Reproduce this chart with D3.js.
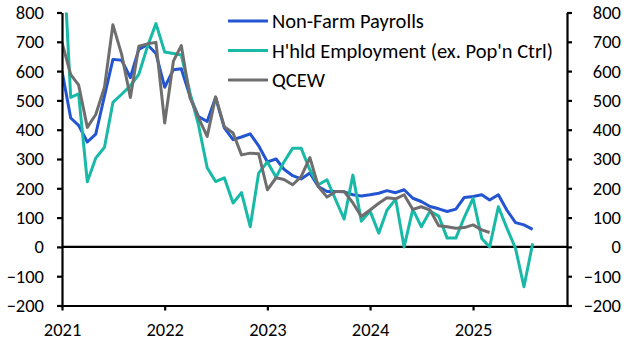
<!DOCTYPE html>
<html><head><meta charset="utf-8">
<script src="https://cdn.jsdelivr.net/npm/d3@7/dist/d3.min.js"></script>
<style>
body{margin:0;background:#fff;}
svg text{font-family:Carlito,Calibri,Lato,sans-serif;fill:#000;}
</style>
</head><body>
<svg id="chart" width="629" height="349"></svg>
<script>
// ---- data ----
const months = [
"2021-01","2021-02","2021-03","2021-04","2021-05","2021-06","2021-07","2021-08","2021-09","2021-10","2021-11","2021-12",
"2022-01","2022-02","2022-03","2022-04","2022-05","2022-06","2022-07","2022-08","2022-09","2022-10","2022-11","2022-12",
"2023-01","2023-02","2023-03","2023-04","2023-05","2023-06","2023-07","2023-08","2023-09","2023-10","2023-11","2023-12",
"2024-01","2024-02","2024-03","2024-04","2024-05","2024-06","2024-07","2024-08","2024-09","2024-10","2024-11","2024-12",
"2025-01","2025-02","2025-03","2025-04","2025-05","2025-06","2025-07","2025-08"];

const nonFarmPayrolls = [
600,440,415,358,385,515,640,637,578,674,690,660,
545,605,608,514,445,428,510,406,366,375,386,345,
290,300,265,243,232,252,206,189,189,188,178,174,
178,183,192,185,195,166,155,138,130,121,129,169,
172,178,160,178,126,83,75,60];

const householdEmployment = [
1090,510,522,222,303,340,493,521,550,589,685,762,
665,660,655,526,417,270,223,236,150,185,69,252,
290,238,290,337,337,263,212,229,160,95,245,88,
122,47,125,163,0,128,69,122,105,30,30,101,
166,29,0,137,65,-5,-136,12];

const qcew = [
698,588,553,408,452,545,758,657,510,685,693,698,
423,634,687,509,441,377,512,410,389,314,320,318,
195,236,230,212,240,305,206,170,189,189,150,104,
126,149,168,164,178,128,137,126,72,69,64,66,
75,58,49];

const seriesNames = ["Non-Farm Payrolls","H'hld Employment (ex. Pop'n Ctrl)","QCEW"];
const seriesColors = ["#2354D1","#18B9A6","#6E6E6E"];
const yTicks = [-200,-100,0,100,200,300,400,500,600,700,800];
const xTickLabels = ["2021","2022","2023","2024","2025"];
const xDomain = ["2021-01","2025-12"];

// ---- layout ----
const svg = d3.select("#chart");
const L = 62, R = 567, T = 12.5, B = 305.5;
const parse = d3.timeParse("%Y-%m");
const x = d3.scaleTime().domain(xDomain.map(parse)).range([L, R]);
const y = d3.scaleLinear().domain([-200, 800]).range([B, T]);
const fs = "18.5px";
const legFs = "20.5px";

svg.append("defs").append("clipPath").attr("id","plotclip")
  .append("rect").attr("x", L).attr("y", T).attr("width", R - L).attr("height", B - T);

// zero line
svg.append("line").attr("x1", L).attr("x2", R).attr("y1", y(0)).attr("y2", y(0))
  .attr("stroke", "#000").attr("stroke-width", 2.2);

// series lines
const allSeries = [nonFarmPayrolls, householdEmployment, qcew];
const line = d3.line().x((d, i) => x(parse(months[i]))).y(d => y(d));
const g = svg.append("g").attr("clip-path", "url(#plotclip)");
allSeries.forEach((vals, k) => {
  g.append("path").datum(vals).attr("d", line)
    .attr("fill", "none").attr("stroke", seriesColors[k])
    .attr("stroke-width", 3).attr("stroke-linejoin", "round").attr("stroke-linecap", "butt");
});

// axes
function styleAxis(sel) {
  sel.select(".domain").attr("stroke", "#000").attr("stroke-width", 2.2);
  sel.selectAll(".tick line").attr("stroke", "#000").attr("stroke-width", 2.2);
  sel.selectAll("text").attr("font-size", fs).attr("fill", "#000");
}
const leftAx = svg.append("g").attr("transform", `translate(${L},0)`)
  .call(d3.axisLeft(y).tickValues(yTicks).tickSize(5).tickSizeOuter(0).tickPadding(13).tickFormat(d3.format("d")));
styleAxis(leftAx);

const rightAx = svg.append("g").attr("transform", `translate(${R},0)`)
  .call(d3.axisRight(y).tickValues(yTicks).tickSize(5).tickSizeOuter(0).tickPadding(0).tickFormat(d3.format("d")));
styleAxis(rightAx);
rightAx.selectAll("text").attr("text-anchor", "end").attr("x", 621 - R);

const yearDates = xTickLabels.map(s => parse(s + "-01"));
const botAx = svg.append("g").attr("transform", `translate(0,${B})`)
  .call(d3.axisBottom(x).tickValues(yearDates).tickSize(5).tickSizeOuter(0).tickPadding(12)
    .tickFormat((d, i) => xTickLabels[i]));
styleAxis(botAx);

// legend
const legX0 = 228, legX1 = 268, legY0 = 21, legDy = 29.5;
seriesNames.forEach((name, k) => {
  const yy = legY0 + k * legDy;
  svg.append("line").attr("x1", legX0).attr("x2", legX1).attr("y1", yy).attr("y2", yy)
    .attr("stroke", seriesColors[k]).attr("stroke-width", 3);
  svg.append("text").attr("x", legX1 + 4).attr("y", yy).attr("dy", "0.35em")
    .attr("font-size", legFs).text(name);
});
</script>
</body></html>
